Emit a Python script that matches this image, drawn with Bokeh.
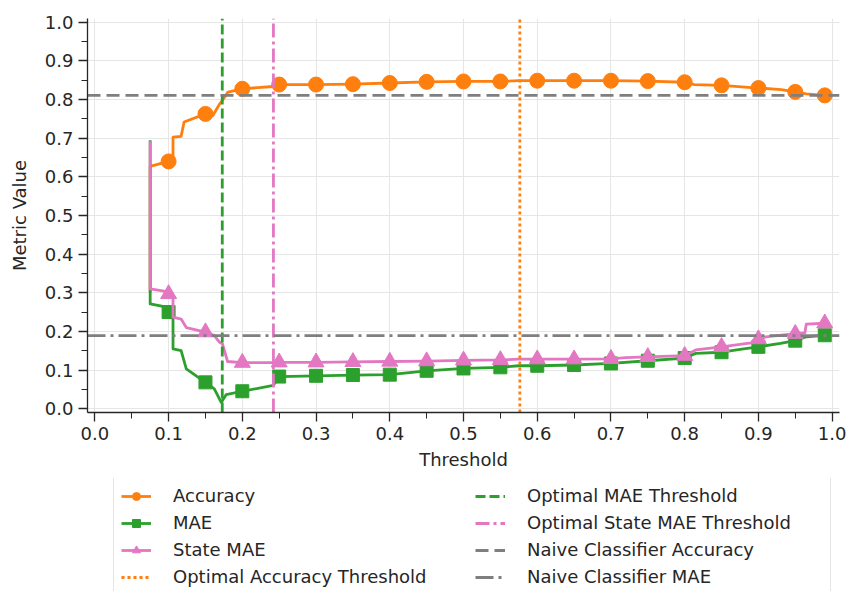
from bokeh.plotting import figure
from bokeh.layouts import column
from bokeh.models import Legend, LegendItem, FixedTicker, PrintfTickFormatter
from bokeh.embed import file_html
from bokeh.resources import INLINE

# ---------------- data ----------------
acc_x = [0.075, 0.075, 0.1, 0.106, 0.106, 0.117, 0.121, 0.15, 0.160, 0.169, 0.1737, 0.1805, 0.2,
         0.242, 0.25, 0.3, 0.35, 0.4, 0.45, 0.5, 0.55, 0.575, 0.6, 0.65, 0.7, 0.75, 0.8, 0.813,
         0.85, 0.9, 0.931, 0.95, 0.965, 0.99]
acc_y = [0.30, 0.627, 0.640, 0.643, 0.703, 0.705, 0.742, 0.763, 0.759, 0.788, 0.800, 0.8195, 0.828,
         0.834, 0.839, 0.839, 0.840, 0.843, 0.846, 0.847, 0.847, 0.849, 0.849, 0.849, 0.849, 0.848, 0.845, 0.839,
         0.837, 0.830, 0.826, 0.820, 0.815, 0.811]

mae_x = [0.075, 0.075, 0.094, 0.1, 0.106, 0.106, 0.117, 0.124, 0.15, 0.162, 0.1714, 0.178, 0.2,
         0.242, 0.25, 0.3, 0.35, 0.4, 0.45, 0.5, 0.55, 0.575, 0.6, 0.65, 0.7, 0.75, 0.8, 0.815,
         0.85, 0.88, 0.9, 0.93, 0.95, 0.965, 0.99]
mae_y = [0.695, 0.271, 0.264, 0.250, 0.245, 0.155, 0.150, 0.103, 0.068, 0.051, 0.016, 0.036, 0.045,
         0.060, 0.083, 0.085, 0.087, 0.088, 0.098, 0.104, 0.107, 0.111, 0.111, 0.113, 0.117, 0.124, 0.131, 0.143,
         0.146, 0.155, 0.160, 0.169, 0.176, 0.186, 0.190]

state_x = [0.075, 0.075, 0.094, 0.1, 0.106, 0.106, 0.117, 0.124, 0.15, 0.162, 0.169, 0.173, 0.18, 0.2,
           0.242, 0.25, 0.3, 0.35, 0.4, 0.45, 0.5, 0.55, 0.575, 0.6, 0.65, 0.7, 0.72, 0.75, 0.8, 0.815,
           0.85, 0.89, 0.9, 0.91, 0.95, 0.963, 0.965, 0.99]
state_y = [0.692, 0.310, 0.304, 0.297, 0.290, 0.237, 0.232, 0.210, 0.198, 0.189, 0.172, 0.168, 0.122, 0.119,
           0.119, 0.120, 0.120, 0.121, 0.122, 0.123, 0.125, 0.126, 0.128, 0.128, 0.128, 0.129, 0.132, 0.134, 0.137, 0.152,
           0.160, 0.170, 0.180, 0.186, 0.194, 0.196, 0.219, 0.221]

marker_x = [0.1, 0.15, 0.2, 0.25, 0.3, 0.35, 0.4, 0.45, 0.5, 0.55, 0.6, 0.65, 0.7, 0.75, 0.8, 0.85, 0.9, 0.95, 0.99]
acc_m = [0.640, 0.763, 0.828, 0.839, 0.839, 0.840, 0.843, 0.846, 0.847, 0.847, 0.849, 0.849, 0.849, 0.848,
         0.845, 0.837, 0.830, 0.820, 0.811]
mae_m = [0.250, 0.068, 0.045, 0.083, 0.085, 0.087, 0.088, 0.098, 0.104, 0.107, 0.111, 0.113, 0.117, 0.124,
         0.131, 0.146, 0.160, 0.176, 0.190]
state_m = [0.297, 0.198, 0.119, 0.120, 0.120, 0.121, 0.122, 0.123, 0.125, 0.126, 0.128, 0.128, 0.129, 0.134,
           0.137, 0.160, 0.180, 0.194, 0.221]

opt_acc_thr = 0.5764
opt_mae_thr = 0.1728
opt_state_thr = 0.2422
naive_acc = 0.811
naive_mae = 0.189

x_lim = [-0.01, 1.01]
y_lim = [-0.01, 1.01]
x_ticks = [0.0, 0.1, 0.2, 0.3, 0.4, 0.5, 0.6, 0.7, 0.8, 0.9, 1.0]
x_minor = [0.05, 0.15, 0.25, 0.35, 0.45, 0.55, 0.65, 0.75, 0.85, 0.95]
y_ticks = [0.0, 0.1, 0.2, 0.3, 0.4, 0.5, 0.6, 0.7, 0.8, 0.9, 1.0]
y_minor = [0.05, 0.15, 0.25, 0.35, 0.45, 0.55, 0.65, 0.75, 0.85, 0.95]

labels = ["Accuracy", "MAE", "State MAE", "Optimal Accuracy Threshold",
          "Optimal MAE Threshold", "Optimal State MAE Threshold",
          "Naive Classifier Accuracy", "Naive Classifier MAE"]

# ---------------- styling ----------------
ORANGE = "#ff7f0e"
GREEN = "#2ca02c"
PINK = "#e377c2"
GRAY = "#7f7f7f"
DARK = "#262626"
FONT = "DejaVu Sans"
LW = 2.8

p = figure(frame_width=752, frame_height=394, x_range=tuple(x_lim), y_range=tuple(y_lim),
           output_backend="svg", toolbar_location=None,
           min_border_left=87, min_border_right=8, min_border_top=18, min_border_bottom=66)
p.outline_line_color = None
p.background_fill_color = "white"

for ax, ticks, minor in ((p.xaxis[0], x_ticks, x_minor), (p.yaxis[0], y_ticks, y_minor)):
    ax.ticker = FixedTicker(ticks=ticks, minor_ticks=minor)
    ax.formatter = PrintfTickFormatter(format="%.1f")
    ax.axis_line_color = DARK
    ax.axis_line_width = 1.3
    ax.major_tick_line_color = DARK
    ax.major_tick_line_width = 1.3
    ax.minor_tick_line_color = DARK
    ax.minor_tick_line_width = 1.0
    ax.major_tick_in = 0
    ax.major_tick_out = 9
    ax.minor_tick_in = 0
    ax.minor_tick_out = 6
    ax.major_label_text_font = FONT
    ax.major_label_text_font_size = "18px"
    ax.major_label_text_color = DARK
    ax.major_label_standoff = 5
    ax.axis_label_text_font = FONT
    ax.axis_label_text_font_size = "18px"
    ax.axis_label_text_font_style = "normal"
    ax.axis_label_text_color = DARK

p.xaxis.axis_label = "Threshold"
p.yaxis.axis_label = "Metric Value"
p.xaxis.axis_label_standoff = 6
p.yaxis.axis_label_standoff = 12

p.xgrid.grid_line_color = "#e6e6e6"
p.ygrid.grid_line_color = "#e6e6e6"

series = [(acc_x, acc_y, acc_m), (mae_x, mae_y, mae_m), (state_x, state_y, state_m)]
series_styles = [
    dict(color=ORANGE, marker="circle", size=15),
    dict(color=GREEN, marker="square", size=13),
    dict(color=PINK, marker="triangle", size=16),
]
ref_data = [
    ([opt_acc_thr, opt_acc_thr], y_lim),
    ([opt_mae_thr, opt_mae_thr], y_lim),
    ([opt_state_thr, opt_state_thr], y_lim),
    (x_lim, [naive_acc, naive_acc]),
    (x_lim, [naive_mae, naive_mae]),
]
ref_styles = [
    dict(color=ORANGE, line_dash="3 3"),
    dict(color=GREEN, line_dash="10 4"),
    dict(color=PINK, line_dash="14 4 3 4"),
    dict(color=GRAY, line_dash="13 6"),
    dict(color=GRAY, line_dash="18 5 3 5"),
]


def draw(fig):
    rs = []
    for (xs, ys, ms), st in zip(series, series_styles):
        rl = fig.line(xs, ys, color=st["color"], line_width=LW, line_join="round")
        rm = fig.scatter(marker_x, ms, marker=st["marker"], size=st["size"], color=st["color"])
        rs.append([rl, rm])
    for (xs, ys), st in zip(ref_data, ref_styles):
        rl = fig.line(xs, ys, color=st["color"], line_width=LW, line_dash=st["line_dash"])
        rs.append([rl])
    return rs


draw(p)

# ---------------- legend strip below the plot ----------------
# its ranges lie away from the data, so only the legend shows
lg = figure(frame_width=847, frame_height=113, x_range=(5, 6), y_range=(5, 6),
            output_backend="svg", toolbar_location=None,
            x_axis_type=None, y_axis_type=None,
            min_border_left=0, min_border_right=0, min_border_top=0, min_border_bottom=0)
lg.outline_line_color = None
lg.xgrid.visible = False
lg.ygrid.visible = False

legend_renderers = draw(lg)
items = [LegendItem(label=lab, renderers=rs) for lab, rs in zip(labels, legend_renderers)]

legend = Legend(items=items, location=(113, -4), orientation="vertical", nrows=4)
legend.label_text_font = FONT
legend.label_text_font_size = "18px"
legend.label_text_color = DARK
legend.glyph_width = 30
legend.glyph_height = 20
legend.label_height = 20
legend.label_standoff = 22
legend.label_width = 296
legend.spacing = 6
legend.padding = 7
legend.margin = 0
legend.border_line_color = "#cccccc"
legend.border_line_width = 1
legend.background_fill_color = "white"
lg.add_layout(legend, "center")

layout = column(p, lg, spacing=0)
open("out.html", "w").write(file_html(layout, INLINE))
